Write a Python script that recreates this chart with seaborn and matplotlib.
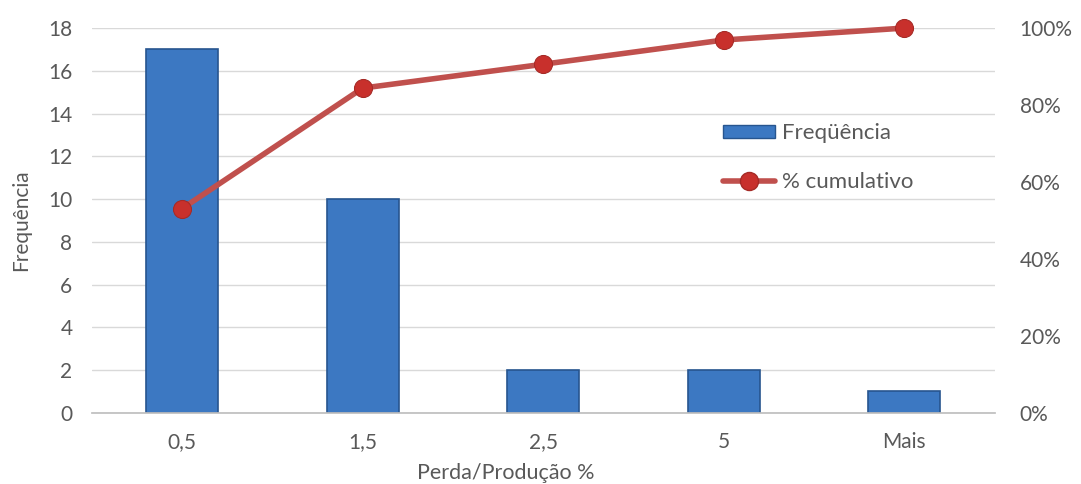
import numpy as np
import pandas as pd
import seaborn as sns
import matplotlib.pyplot as plt
from matplotlib.lines import Line2D
from matplotlib.patches import Patch
from matplotlib.ticker import FuncFormatter

# dados
categorias = ['0,5', '1,5', '2,5', '5', 'Mais']
frequencia = [17, 10, 2, 2, 1]
pct_cumulativo = [53.1, 84.4, 90.6, 96.9, 100.0]

df = pd.DataFrame({'cat': categorias, 'freq': frequencia, 'cum': pct_cumulativo})

sns.set_theme(style="white")
plt.rcParams['font.family'] = ['Lato', 'DejaVu Sans']

cor_barra = '#3C78C2'
cor_borda = '#27558F'
cor_linha = '#C0504D'
cor_texto = '#595959'

fig = plt.figure(figsize=(10.81, 4.84), dpi=100)
ax = fig.add_axes([0.085, 0.147, 0.835, 0.795])

sns.barplot(data=df, x='cat', y='freq', color=cor_barra, width=0.4,
            edgecolor=cor_borda, linewidth=1.2, saturation=1, ax=ax, zorder=2)

ax.set_ylim(0, 18)
ax.set_xlim(-0.5, 4.5)
ax.set_yticks(np.arange(0, 19, 2))
ax.grid(axis='y', color='#D9D9D9', linewidth=1, zorder=0)
ax.set_axisbelow(True)
for s in ['top', 'left', 'right']:
    ax.spines[s].set_visible(False)
ax.spines['bottom'].set_color('#BFBFBF')
ax.tick_params(axis='both', colors=cor_texto, labelsize=15, length=0)
ax.tick_params(axis='y', pad=14)
ax.tick_params(axis='x', pad=14)
ax.set_xlabel('Perda/Produção %', fontsize=15.5, color=cor_texto, labelpad=6)
ax.xaxis.set_label_coords(0.458, -0.13)
ax.set_ylabel('Frequência', fontsize=15, color=cor_texto, labelpad=12)

ax2 = ax.twinx()
sns.lineplot(x=np.arange(len(categorias)), y=df['cum'], color=cor_linha, linewidth=4,
             marker='o', markersize=13, markerfacecolor='#C8302C',
             markeredgecolor='#A52A26', ax=ax2, zorder=3, clip_on=False)
ax2.set_ylim(0, 100)
ax2.set_yticks(np.arange(0, 101, 20))
ax2.yaxis.set_major_formatter(FuncFormatter(lambda v, p: f'{v:.0f}%'))
ax2.tick_params(axis='y', colors=cor_texto, labelsize=15, length=0, pad=18)
ax2.set_ylabel('')
for s in ax2.spines.values():
    s.set_visible(False)
ax2.grid(False)

handles = [Patch(facecolor=cor_barra, edgecolor=cor_borda, label='Freqüência'),
           Line2D([0], [0], color=cor_linha, linewidth=4, marker='o', markersize=13,
                  markerfacecolor='#C8302C', markeredgecolor='#A52A26', label='% cumulativo')]
ax2.legend(handles=handles, loc='upper left', bbox_to_anchor=(0.677, 0.805), frameon=False,
           fontsize=16, labelcolor=cor_texto, handlelength=2.35, handleheight=0.5,
           labelspacing=1.3, handletextpad=0.3)

fig.savefig('out.png', dpi=100)
